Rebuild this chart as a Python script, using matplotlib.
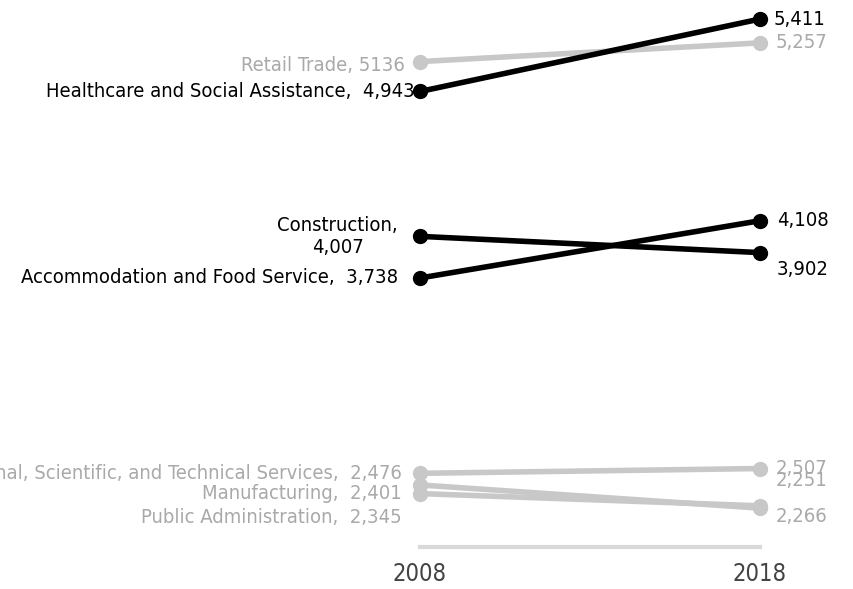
import matplotlib.pyplot as plt

years = [2008, 2018]
industries = [
    'Professional, Scientific, and Technical Services',
    'Manufacturing',
    'Public Administration',
    'Retail Trade',
    'Construction',
    'Accommodation and Food Service',
    'Healthcare and Social Assistance',
]
start = [2476, 2401, 2345, 5136, 4007, 3738, 4943]
end = [2507, 2251, 2266, 5257, 3902, 4108, 5411]
highlight = [False, False, False, False, True, True, True]
left_labels = [
    'Professional, Scientific, and Technical Services,  2,476',
    'Manufacturing,  2,401',
    'Public Administration,  2,345',
    'Retail Trade, 5136',
    'Construction,\n4,007',
    'Accommodation and Food Service,  3,738',
    'Healthcare and Social Assistance,  4,943',
]
right_labels = ['2,507', '2,251', '2,266', '5,257', '3,902', '4,108', '5,411']

# label offsets in points (dx, dy)
left_off = [(-13, 0), (-13, -6), (-13, -17), (-11, -3), (-16, 0), (-16, 0), (-4, 0)]
right_off = [(11, 0), (11, 20), (11, -8), (11, 0), (12, -12), (12, 0), (10, 0)]

plt.rcParams['font.family'] = ['DejaVu Sans']
plt.rcParams['font.stretch'] = 'condensed'

fig = plt.figure(figsize=(8.54, 5.89), dpi=100)
ax = fig.add_axes([420 / 854, 42 / 589, 340 / 854, 547 / 589])

gray = '#c8c8c8'
for i in sorted(range(len(industries)), key=lambda k: highlight[k]):
    c = 'black' if highlight[i] else gray
    tc = 'black' if highlight[i] else '#a9a9a9'
    ax.plot(years, [start[i], end[i]], color=c, linewidth=4, marker='o',
            markersize=10, clip_on=False, solid_capstyle='round')
    ax.annotate(left_labels[i], (years[0], start[i]), xytext=left_off[i],
                textcoords='offset points', ha='right', va='center',
                multialignment='center', fontsize=14.5, color=tc)
    ax.annotate(right_labels[i], (years[1], end[i]), xytext=right_off[i],
                textcoords='offset points', ha='left', va='center',
                fontsize=14.5, color=tc)

ax.set_xlim(2008, 2018)
ax.set_ylim(2000, 5534)
ax.set_xticks(years)
ax.set_xticklabels(['2008', '2018'], fontsize=17, color='#444444')
ax.tick_params(axis='x', length=0, pad=11)
ax.set_yticks([])
for s in ['top', 'left', 'right']:
    ax.spines[s].set_visible(False)
ax.spines['bottom'].set_color('#d9d9d9')
ax.spines['bottom'].set_linewidth(3)

plt.savefig('out.png', dpi=100)
